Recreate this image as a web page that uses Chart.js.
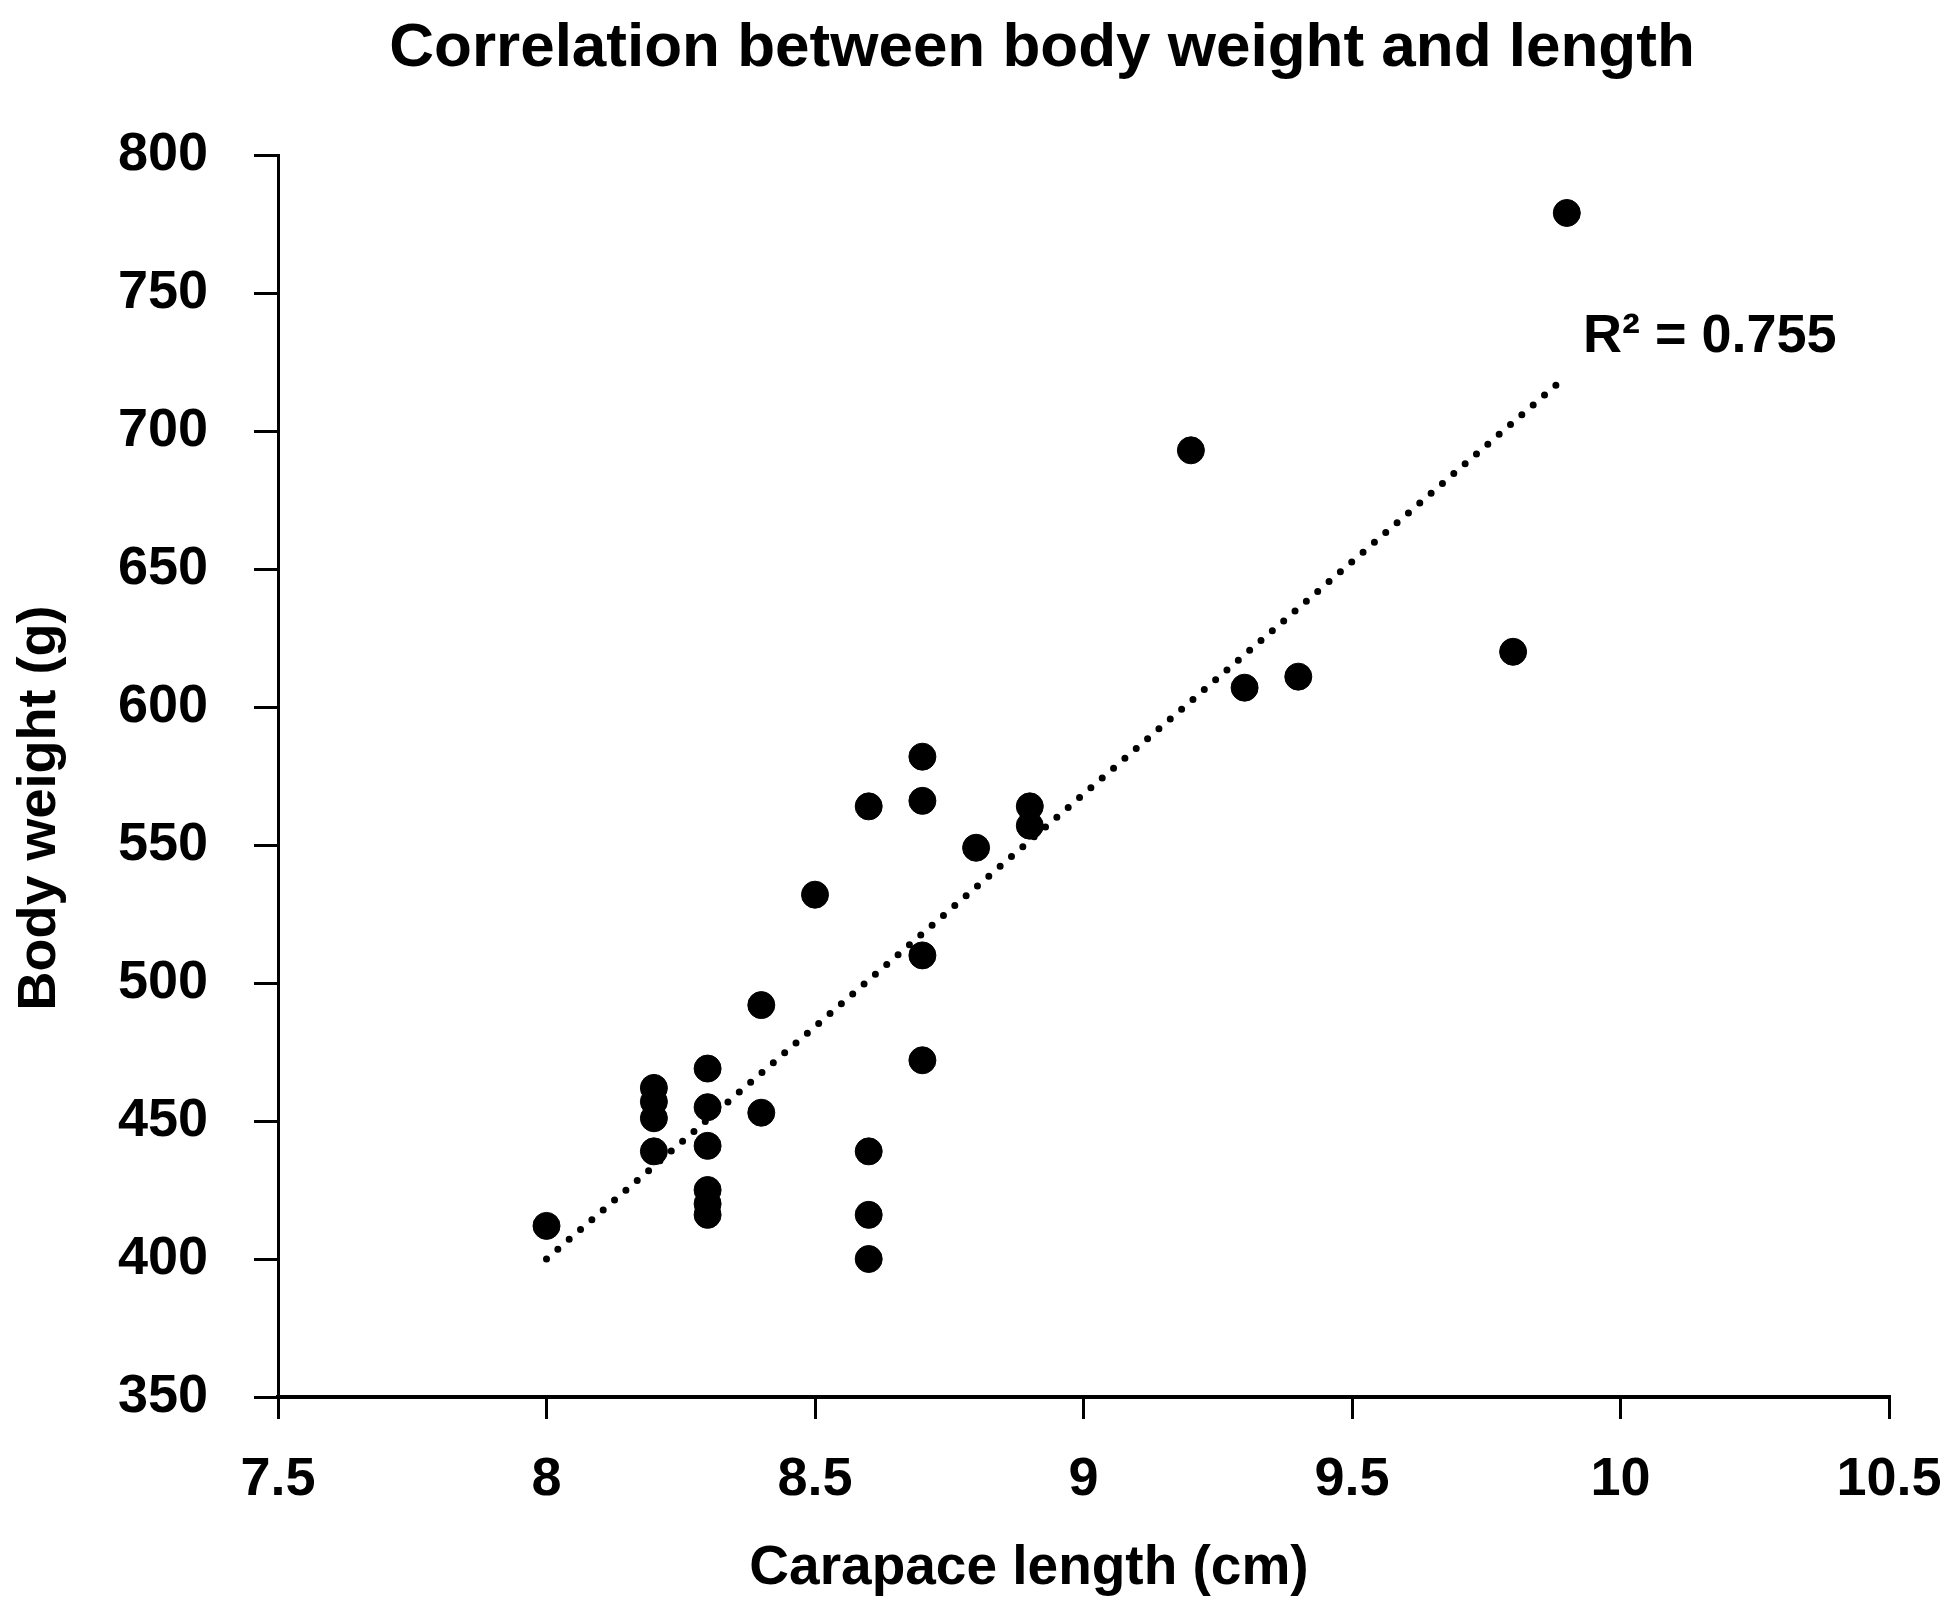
<!DOCTYPE html>
<html>
<head>
<meta charset="utf-8">
<script src="https://cdn.jsdelivr.net/npm/chart.js@4.4.1/dist/chart.umd.min.js"></script>
<style>
  html, body { margin: 0; padding: 0; background: #fff; }
  #wrap { width: 1950px; height: 1616px; }
</style>
</head>
<body>
<div id="wrap"><canvas id="scatterChart" width="1950" height="1616"></canvas></div>
<script>
// carapace length (cm) and body weight (g)
const lengths = [8.0, 8.2, 8.2, 8.2, 8.2, 8.3, 8.3, 8.3, 8.3, 8.3, 8.3, 8.4, 8.4, 8.5,
  8.6, 8.6, 8.6, 8.6, 8.7, 8.7, 8.7, 8.7, 8.8, 8.9, 8.9, 9.2, 9.3, 9.4, 9.8, 9.9]
const weights = [412, 462, 457, 451, 439, 469, 455, 441, 425, 420, 416, 492, 453, 532,
  564, 439, 416, 400, 582, 566, 510, 472, 549, 564, 557, 693, 607, 611, 620, 779]

// trendline end points
const trendX = [8.0, 9.9]
const trendY = [400, 720]
const rSquared = "R² = 0.755"

const xTicks = { min: 7.5, max: 10.5, step: 0.5 }
const yTicks = { min: 350, max: 800, step: 50 }

const FONT = "'Liberation Sans', Arial, sans-serif"

const points = lengths.map((x, i) => ({ x: x, y: weights[i] }))
const trend = trendX.map((x, i) => ({ x: x, y: trendY[i] }))

// title, axis titles and the R² label
const textPlugin = {
  id: "extraText",
  afterDraw(chart) {
    const ctx = chart.ctx
    const xs = chart.scales.x
    const ys = chart.scales.y
    ctx.save()
    ctx.fillStyle = "#000"
    ctx.textBaseline = "middle"
    ctx.textAlign = "center"

    ctx.font = "bold 62px " + FONT
    ctx.fillText("Correlation between body weight and length", 1042, 49)

    ctx.font = "bold 55px " + FONT
    ctx.fillText("Carapace length (cm)", 1029, 1569)

    ctx.save()
    ctx.translate(40, 808)
    ctx.rotate(-Math.PI / 2)
    ctx.font = "bold 54px " + FONT
    ctx.fillText("Body weight (g)", 0, 0)
    ctx.restore()

    ctx.font = "bold 54px " + FONT
    ctx.textAlign = "left"
    ctx.fillText(rSquared, xs.getPixelForValue(9.93), ys.getPixelForValue(734))
    ctx.restore()
  },
}

const ctx = document.getElementById("scatterChart").getContext("2d")
new Chart(ctx, {
  type: "scatter",
  data: {
    datasets: [
      {
        label: "Body weight",
        data: points,
        backgroundColor: "#000",
        borderColor: "#000",
        pointRadius: 13.5,
        pointHoverRadius: 13.5,
      },
      {
        label: "Trend",
        data: trend,
        showLine: true,
        pointRadius: 0,
        borderColor: "#000",
        borderWidth: 7,
        borderDash: [0, 15],
        borderCapStyle: "round",
      },
    ],
  },
  options: {
    responsive: false,
    animation: false,
    layout: { padding: { top: 155, right: 61, bottom: 0, left: 0 } },
    plugins: {
      legend: { display: false },
      tooltip: { enabled: false },
    },
    scales: {
      x: {
        type: "linear",
        min: xTicks.min,
        max: xTicks.max,
        ticks: {
          stepSize: xTicks.step,
          color: "#000",
          padding: 29,
          font: { family: FONT, size: 54, weight: "bold" },
          callback: (v) => String(v),
        },
        grid: { drawOnChartArea: false, drawTicks: true, tickLength: 22, color: "#000", lineWidth: 3 },
        border: { color: "#000", width: 4 },
        afterFit(scale) {
          scale.height = 219
          scale.paddingLeft = 0
          scale.paddingRight = 0
        },
      },
      y: {
        type: "linear",
        min: yTicks.min,
        max: yTicks.max,
        ticks: {
          stepSize: yTicks.step,
          color: "#000",
          padding: 46,
          font: { family: FONT, size: 54, weight: "bold" },
        },
        grid: { drawOnChartArea: false, drawTicks: true, tickLength: 24, color: "#000", lineWidth: 3 },
        border: { color: "#000", width: 3 },
        afterFit(scale) { scale.width = 278 },
      },
    },
  },
  plugins: [textPlugin],
})
</script>
</body>
</html>
